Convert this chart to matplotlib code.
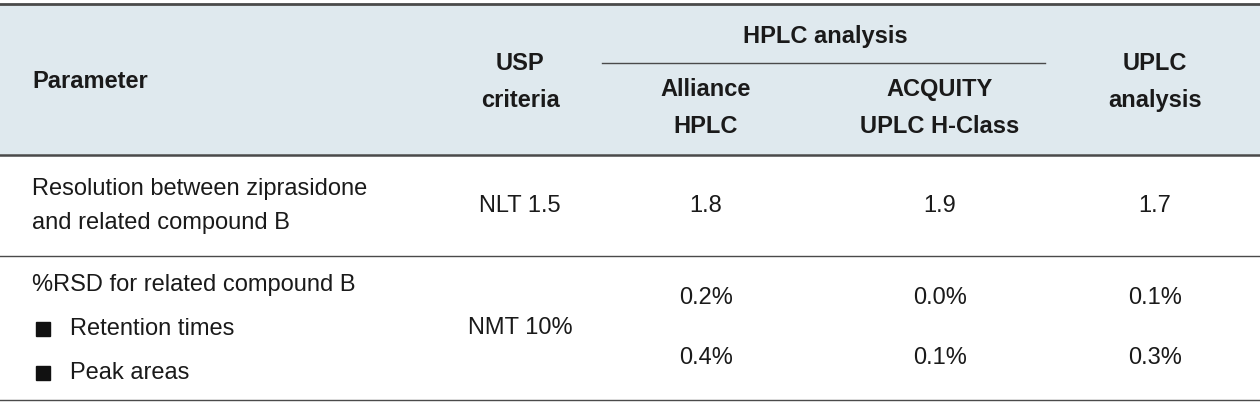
import matplotlib
matplotlib.use("Agg")
from matplotlib import pyplot as plt
from matplotlib.patches import Rectangle

plt.rcParams['font.family'] = ['Liberation Sans', 'DejaVu Sans']

columns = ["USP\ncriteria", "Alliance\nHPLC", "ACQUITY\nUPLC H-Class", "UPLC\nanalysis"]
group_label = "HPLC analysis"
row_labels = ["Resolution between ziprasidone\nand related compound B", "%RSD for related compound B"]
sub_items = ["Retention times", "Peak areas"]
usp = ["NLT 1.5", "NMT 10%"]
resolution = ["1.8", "1.9", "1.7"]
rsd_retention = ["0.2%", "0.0%", "0.1%"]
rsd_area = ["0.4%", "0.1%", "0.3%"]

W, H = 1260, 403
fig = plt.figure(figsize=(W / 100, H / 100), dpi=100)
ax = fig.add_axes([0, 0, 1, 1])
ax.set_xlim(0, W)
ax.set_ylim(H, 0)
ax.axis("off")

line_c = "#4a4a4a"
txt_c = "#1a1a1a"
fs = 17

ax.add_patch(Rectangle((0, 4), W, 151, color="#dfe9ee", zorder=0))
ax.plot([0, W], [4, 4], color=line_c, lw=2)
ax.plot([0, W], [155, 155], color=line_c, lw=1.8)
ax.plot([0, W], [256, 256], color=line_c, lw=1)
ax.plot([0, W], [400, 400], color=line_c, lw=1)
ax.plot([602, 1045], [63, 63], color=line_c, lw=1)

xs = [520, 706, 940, 1155]
ys = [82, 108, 108, 82]
ax.text(32, 82, "Parameter", fontsize=fs, weight="bold", va="center", color=txt_c)
for x, y, c in zip(xs, ys, columns):
    ax.text(x, y, c, fontsize=fs, weight="bold", ha="center", va="center",
            linespacing=1.75, color=txt_c)
ax.text(825, 36, group_label, fontsize=fs, weight="bold", ha="center", va="center", color=txt_c)

# row 1
ax.text(32, 206, row_labels[0], fontsize=fs, va="center", linespacing=1.7, color=txt_c)
ax.text(xs[0], 206, usp[0], fontsize=fs, ha="center", va="center", color=txt_c)
for x, v in zip(xs[1:], resolution):
    ax.text(x, 206, v, fontsize=fs, ha="center", va="center", color=txt_c)

# row 2
ax.text(32, 285, row_labels[1], fontsize=fs, va="center", color=txt_c)
for y, s in zip([329, 373], sub_items):
    ax.add_patch(Rectangle((36, y - 7), 14, 14, color="#111111"))
    ax.text(70, y, s, fontsize=fs, va="center", color=txt_c)
ax.text(xs[0], 328, usp[1], fontsize=fs, ha="center", va="center", color=txt_c)
for x, a, b in zip(xs[1:], rsd_retention, rsd_area):
    ax.text(x, 298, a, fontsize=fs, ha="center", va="center", color=txt_c)
    ax.text(x, 358, b, fontsize=fs, ha="center", va="center", color=txt_c)

fig.savefig("out.png", dpi=100)
